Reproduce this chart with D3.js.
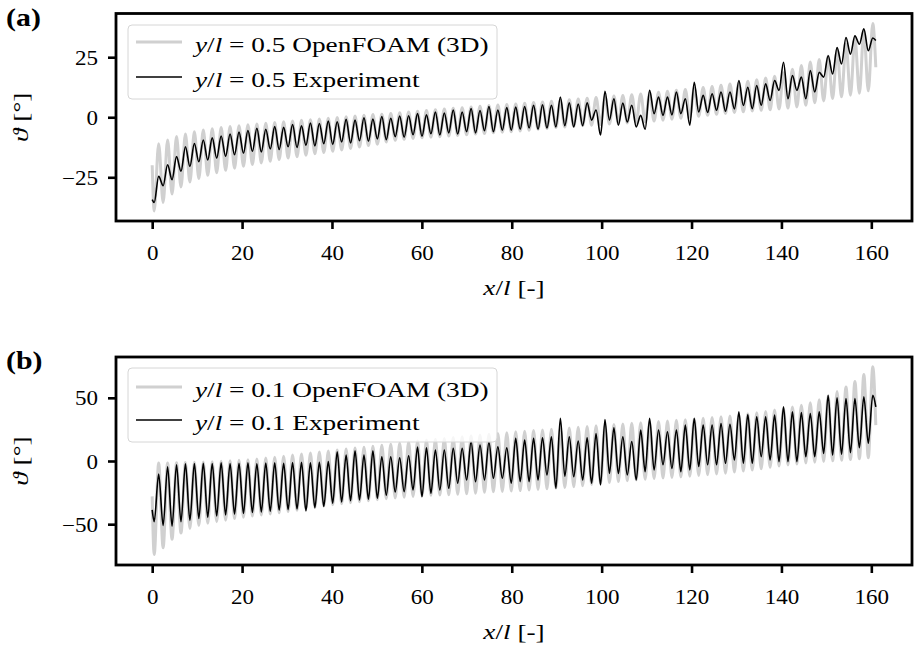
<!DOCTYPE html>
<html><head><meta charset="utf-8">
<script src="https://cdn.jsdelivr.net/npm/d3@7"></script>
<style>
body{margin:0;background:#fff}
svg{display:block}
text{font-family:"Liberation Serif","Times New Roman","DejaVu Serif",serif;fill:#000}
</style>
</head><body>
<svg id="chart" width="916" height="649"></svg>
<script>
// ---------------- DATA ----------------
// x/l grid: first extremum and half oscillation period (x/l units)
const xFirst = 0, xLast = 161;
const firstExtremumX = 0.45, halfPeriod = 0.993;

const xTicks = [0, 20, 40, 60, 80, 100, 120, 140, 160];
const yTicksA = [-25, 0, 25];
const yTicksB = [-50, 0, 50];

// Panel (a): y/l = 0.5 — OpenFOAM (3D)
const ofoamA_ends = [-20, 20.8];
const ofoamA_troughs = [-39, -35.5, -32, -29, -27, -25.5, -24.2, -23.1, -22.1, -21.2,
 -20.4, -19.7, -19.0, -18.3, -17.6, -17.0, -16.4, -15.8, -15.2, -14.7,
 -14.2, -13.6, -13.0, -12.4, -11.8, -11.2, -10.3, -9.6, -9.2, -8.8,
 -8.5, -8.3, -8.1, -7.8, -7.6, -7.3, -7.0, -6.8, -6.5, -6.2,
 -6.0, -5.7, -5.4, -5.0, -4.7, -4.3, -4.1, -3.8, -3.5, -3.3,
 -3.0, -2.8, -2.6, -2.4, -2.2, -2.0, -1.6, -1.2, -0.8, -0.4,
 0.0, 0.4, 0.8, 1.2, 1.6, 2.0, 2.3, 2.6, 2.9, 3.1,
 3.4, 3.8, 4.3, 5.0, 6.0, 6.8, 7.8, 8.5, 9.2, 10.0, 11.0];
const ofoamA_peaks = [-11, -9.5, -8, -7, -6, -5.3, -4.8, -4.3, -3.9, -3.5,
 -3.1, -2.8, -2.5, -2.2, -1.9, -1.6, -1.3, -1.0, -0.7, -0.4,
 -0.1, 0.2, 0.5, 0.8, 1.1, 1.3, 1.6, 1.9, 2.2, 2.5,
 2.8, 3.1, 3.4, 3.7, 4.0, 4.3, 4.6, 4.9, 5.1, 5.3,
 5.5, 5.8, 6.1, 6.4, 6.7, 7.0, 7.3, 7.6, 7.9, 8.2,
 8.5, 8.8, 9.1, 9.4, 9.7, 10.0, 10.4, 10.8, 11.2, 11.6,
 12.0, 12.4, 12.8, 13.3, 13.8, 14.4, 15.0, 15.6, 16.3, 17.1,
 18.5, 20.0, 21.5, 23.0, 24.0, 25.5, 28.0, 30.5, 33.0, 35.8, 39.0];

// Panel (a): y/l = 0.5 — Experiment
const expA_ends = [-34.3, 32.0];
const expA_troughs = [-35.5, -28.5, -26.0, -22.5, -20.5, -18.5, -17.8, -17.0, -16.3, -15.6,
 -15.0, -14.2, -14.4, -13.2, -13.4, -12.3, -12.6, -11.6, -11.9, -11.0,
 -11.3, -10.3, -10.7, -9.8, -10.0, -9.0, -9.3, -8.1, -8.3, -7.3,
 -7.9, -6.9, -7.4, -6.5, -7.0, -6.0, -6.5, -5.6, -6.0, -5.4,
 -5.4, -5.0, -4.5, -5.0, -4.5, -4.0, -3.5, -4.0, -3.5, -1.2,
 -7.4, -1.2, -3.3, -2.0, -4.0, -5.0, 1.5, 0.8, 1.0, 1.5,
 -3.3, 2.2, 2.0, 2.9, 2.5, 3.5, 4.9, 3.6, 5.0, 7.0,
 11.2, 7.7, 11.2, 7.7, 10.5, 16.7, 18.0, 22.2, 26.3, 30.4, 27.7];
const expA_peaks = [-24.6, -19.8, -16.4, -12.3, -10.9, -9.5, -8.6, -7.8, -7.0, -6.2,
 -5.5, -4.6, -5.0, -3.9, -4.2, -3.0, -3.6, -2.4, -2.6, -1.6,
 -1.9, -0.9, -1.2, -0.2, -0.8, 0.3, -0.4, 0.5, 0.6, 1.5,
 1.0, 2.2, 1.8, 3.0, 2.2, 3.6, 2.8, 4.5, 3.0, 4.0,
 4.2, 4.5, 5.0, 5.2, 5.0, 8.4, 6.0, 5.5, 6.0, 3.0,
 10.8, 7.7, 5.9, 5.0, 0.8, 11.2, 8.4, 8.4, 10.5, 7.7,
 14.6, 9.1, 9.8, 10.5, 10.5, 15.3, 12.5, 13.2, 13.9, 15.3,
 22.9, 17.4, 16.7, 19.4, 18.7, 25.6, 29.0, 33.2, 33.9, 36.8, 33.0];

// Panel (b): y/l = 0.1 — OpenFOAM (3D)
const ofoamB_ends = [-28, 28.4];
const ofoamB_troughs = [-74, -68.7, -62, -57, -53.5, -51, -49.3, -48, -46.8, -45.6,
 -44.5, -43.6, -42.8, -42, -41, -40, -39, -38, -36.8, -35.7,
 -34.7, -33.8, -33, -32.2, -31.4, -30.6, -29.8, -29.2, -28.6, -28,
 -27.5, -27.2, -27, -26.8, -26.4, -26, -25.6, -24.8, -24.4, -24.1,
 -23.8, -23.4, -23, -22.5, -22, -21.5, -21, -20.3, -19.6, -18.6,
 -17.8, -17, -16.3, -15.6, -15, -14.4, -13.9, -13.5, -13, -12.6,
 -12, -11.4, -10.8, -10.2, -9.6, -8.8, -8, -7.2, -6.2, -5,
 -4, -3.2, -2.4, -1.6, -1, -0.4, 0.2, 0.6, 1.2, 1.8, 2.6];
const ofoamB_peaks = [-1.6, -1.5, -1.4, -1.2, -1.0, -0.8, -0.5, -0.2, 0.2, 0.5,
 0.9, 1.6, 2.3, 3.0, 3.8, 4.7, 5.5, 6.3, 7.1, 7.9,
 8.8, 9.5, 10.2, 10.9, 11.6, 12.4, 13.2, 14.0, 15.0, 15.8,
 16.6, 17.2, 17.8, 18.6, 19.2, 19.9, 20.5, 21.1, 21.7, 22.4,
 23.1, 23.6, 24.1, 24.6, 25.1, 25.6, 26.2, 26.8, 27.3, 27.8,
 28.3, 28.8, 29.3, 29.8, 30.3, 30.8, 31.3, 31.7, 32.2, 32.7,
 33.2, 33.8, 34.4, 35.0, 35.7, 36.5, 37.3, 38.2, 39.2, 40.3,
 41.5, 42.8, 44.2, 46.0, 48.5, 51.5, 55.0, 58.5, 63.0, 68.5, 74.5];

// Panel (b): y/l = 0.1 — Experiment
const expB_ends = [-38.7, 42.9];
const expB_troughs = [-48, -51, -51.5, -48, -47, -45.5, -44.5, -43.5, -42.6, -42,
 -41.5, -40.8, -40.3, -39.8, -39, -38.5, -38, -39.5, -37, -36,
 -33.4, -32.5, -31.5, -30.8, -30.2, -29.5, -27, -24.5, -24.2, -22.9,
 -28.2, -25.5, -22.9, -21.6, -17.6, -15, -16.3, -15, -13.7, -13.7,
 -17.6, -16.3, -16.3, -15, -11, -21.6, -12, -12.4, -15, -17.6,
 -19, -9.8, -9.8, -11, -15, -8.4, -7.1, -3, -5.8, -8.4,
 -7.1, -4.4, -3, -3, -1.8, 0.8, -1.8, -1.8, 3.4, 0.8,
 -0.5, -0.5, -0.5, 3.4, 3.4, 6, 4.7, 5.3, 6.6, 10.5, 14];
const expB_peaks = [-10.3, -4.5, -3.0, -2.2, -2.0, -1.8, -2.0, -1.5, -2.0, -1.8,
 -1.5, -2.2, -1.6, -1.4, -1.8, -1.2, -1.0, -1.4, -1.0, -0.5,
 7.3, 4.7, 8.1, 4.7, 8.1, 3.4, 3.4, 2.5, 4.2, 11.0,
 10.5, 8.7, 8.7, 10.0, 10.0, 15.3, 12.6, 14.7, 11.3, 10.5,
 17.9, 16.6, 17.9, 18.4, 19.2, 33.7, 19.2, 15.8, 18.4, 21.8,
 32.9, 26.3, 19.2, 15.3, 24.5, 33.7, 24.5, 23.1, 24.5, 28.4,
 33.7, 28.4, 28.4, 29.7, 29.0, 38.9, 36.8, 34.9, 34.9, 36.3,
 42.9, 38.9, 38.4, 37.6, 38.9, 52.0, 50.0, 49.5, 49.5, 50.8, 52.0];

const legendYl = ["0.5", "0.1"];
const panelLetters = ["(a)", "(b)"];

// ---------------- BUILD ----------------
function buildSeries(ends, troughs, peaks) {
  const pts = [{x: xFirst, y: ends[0]}];
  for (let j = 0; j < troughs.length; j++) {
    pts.push({x: firstExtremumX + 2 * j * halfPeriod, y: troughs[j]});
    pts.push({x: firstExtremumX + (2 * j + 1) * halfPeriod, y: peaks[j]});
  }
  pts.push({x: xLast, y: ends[1]});
  return pts;
}

const GRAY = "#d0d0d0";
const X0 = 116, X1 = 912;
const TICK_FS = 20, TICK_SX = 1.15;
const LAB_FS = 21, LAB_SX = 1.3;

const panels = [
  {top: 13.5, bottom: 221, yDomain: [-43.2, 43.2], yTicks: yTicksA,
   ofoam: buildSeries(ofoamA_ends, ofoamA_troughs, ofoamA_peaks),
   exp: buildSeries(expA_ends, expA_troughs, expA_peaks),
   yl: legendYl[0], letter: panelLetters[0], legTop: 25, legBottom: 99, handles: [42, 77]},
  {top: 357, bottom: 565, yDomain: [-82.3, 82.3], yTicks: yTicksB,
   ofoam: buildSeries(ofoamB_ends, ofoamB_troughs, ofoamB_peaks),
   exp: buildSeries(expB_ends, expB_troughs, expB_peaks),
   yl: legendYl[1], letter: panelLetters[1], legTop: 368, legBottom: 442, handles: [387, 420]}
];

const svg = d3.select("#chart");
const x = d3.scaleLinear().domain([-8.05, 169.05]).range([X0, X1]);

function stretched(g, tx, ty, sx, anchor, fs) {
  return g.append("text")
    .attr("transform", `translate(${tx},${ty}) scale(${sx},1)`)
    .attr("text-anchor", anchor)
    .attr("font-size", fs);
}

panels.forEach(p => {
  const y = d3.scaleLinear().domain(p.yDomain).range([p.bottom, p.top]);
  const g = svg.append("g");

  const line = d3.line().x(d => x(d.x)).y(d => y(d.y)).curve(d3.curveMonotoneX);

  g.append("path").datum(p.ofoam)
    .attr("d", line).attr("fill", "none")
    .attr("stroke", GRAY).attr("stroke-width", 3).attr("stroke-linejoin", "round");
  g.append("path").datum(p.exp)
    .attr("d", line).attr("fill", "none")
    .attr("stroke", "#000").attr("stroke-width", 1.6).attr("stroke-linejoin", "round");

  // axes
  const xAxis = d3.axisBottom(x).tickValues(xTicks).tickSize(8).tickSizeOuter(0).tickFormat(d3.format("d"));
  const gx = g.append("g").attr("transform", `translate(0,${p.bottom})`).call(xAxis);
  gx.select(".domain").remove();
  gx.selectAll(".tick line").attr("stroke", "#000").attr("stroke-width", 2.6);
  gx.selectAll(".tick text")
    .attr("x", 0).attr("y", 0).attr("dy", 0)
    .attr("font-size", TICK_FS).attr("font-family", null)
    .attr("transform", `translate(0,38.5) scale(${TICK_SX},1)`);

  const yAxis = d3.axisLeft(y).tickValues(p.yTicks).tickSize(8).tickSizeOuter(0);
  const gy = g.append("g").attr("transform", `translate(${X0},0)`).call(yAxis);
  gy.select(".domain").remove();
  gy.selectAll(".tick line").attr("stroke", "#000").attr("stroke-width", 2.6);
  gy.selectAll(".tick text")
    .attr("x", 0).attr("y", 0).attr("dy", 0)
    .attr("font-size", TICK_FS).attr("font-family", null)
    .attr("transform", `translate(-18,7) scale(${TICK_SX},1)`);

  svg.selectAll(".tick text").attr("fill", "#000");

  // frame
  g.append("rect").attr("x", X0).attr("y", p.top)
    .attr("width", X1 - X0).attr("height", p.bottom - p.top)
    .attr("fill", "none").attr("stroke", "#000").attr("stroke-width", 2.8);

  // x label
  const xl = stretched(g, (X0 + X1) / 2, p.bottom + 74, LAB_SX, "middle", LAB_FS);
  xl.append("tspan").attr("font-style", "italic").text("x");
  xl.append("tspan").text("/");
  xl.append("tspan").attr("font-style", "italic").text("l");
  xl.append("tspan").text(" [-]");

  // y label
  const cy = (p.top + p.bottom) / 2;
  const yl = g.append("text")
    .attr("transform", `translate(28,${cy}) rotate(-90) scale(${LAB_SX},1)`)
    .attr("text-anchor", "middle").attr("font-size", LAB_FS);
  yl.append("tspan").attr("font-style", "italic").text("\u03D1");
  yl.append("tspan").text(" [°]");

  // panel letter
  stretched(g, 6, p.top + 12, 1.15, "start", 26).attr("font-weight", "bold").text(p.letter);

  // legend
  g.append("rect").attr("x", 128).attr("y", p.legTop)
    .attr("width", 369).attr("height", p.legBottom - p.legTop)
    .attr("rx", 4).attr("ry", 4)
    .attr("fill", "#fff").attr("fill-opacity", 0.8)
    .attr("stroke", "#d6d6d6").attr("stroke-width", 1);
  const entries = [
    {color: GRAY, w: 3, label: "OpenFOAM (3D)"},
    {color: "#000", w: 1.6, label: "Experiment"}
  ];
  entries.forEach((e, i) => {
    const hy = p.handles[i];
    g.append("line").attr("x1", 136).attr("x2", 182).attr("y1", hy).attr("y2", hy)
      .attr("stroke", e.color).attr("stroke-width", e.w);
    const t = stretched(g, 195, hy + 10, LAB_SX, "start", LAB_FS);
    t.append("tspan").attr("font-style", "italic").text("y");
    t.append("tspan").text("/");
    t.append("tspan").attr("font-style", "italic").text("l");
    t.append("tspan").text(" = " + p.yl + " " + e.label);
  });
});
</script>
</body></html>
